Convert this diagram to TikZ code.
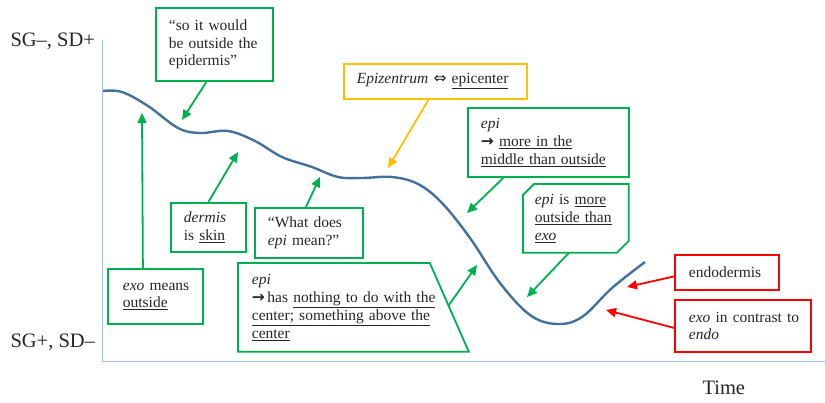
\documentclass[tikz,border=0pt]{standalone}
\usepackage{fontspec}
\setmainfont{Liberation Serif}
\newfontfamily\symfont{DejaVu Sans}
\usepackage{xcolor}
\usetikzlibrary{calc, positioning, arrows.meta}
\definecolor{notegreen}{HTML}{00B050}
\definecolor{noteorange}{HTML}{FFC000}
\definecolor{notered}{HTML}{FF0000}
\definecolor{curveblue}{HTML}{41719C}
\definecolor{axisblue}{HTML}{9DC3E6}
\definecolor{txt}{HTML}{262626}

\begin{document}
\begin{tikzpicture}
			[x=1pt, y=-1pt,
			every node/.style={text=txt, font=\fontsize{15.5pt}{17.8pt}\selectfont},
			axislabel/.style={font=\fontsize{20.5pt}{24pt}\selectfont, anchor=west},
			note/.style={line width=1.8pt, anchor=north west, align=left, inner xsep=13pt, inner ysep=0pt},
			gnote/.style={note, draw=notegreen},
			onote/.style={note, draw=noteorange},
			rnote/.style={note, draw=notered},
			garrow/.style={notegreen, line width=1.8pt, -{Triangle[length=10pt,width=9pt]}},
			oarrow/.style={garrow, noteorange},
			rarrow/.style={garrow, notered}]
		\useasboundingbox (0,0) rectangle (825,402);

		% axes %
		\coordinate (top) at (102,40);
		\coordinate (origin) at (102,361);
		\coordinate (right) at (825,361);
		\draw[axisblue, line width=1pt] (top) -- (origin) -- (right);
		\node[axislabel] (high) at (7,41) {SG–, SD+};
		\node[axislabel] (low) at (7,342) {SG+, SD–};
		\node[axislabel] (time) at (699,388) {Time};

		% curve %
		\draw[curveblue, line width=2.4pt] plot[smooth, tension=0.6] coordinates {
			(103,91) (122,92) (148,106) (178,128) (200,133) (228,131) (255,141)
			(282,157) (312,167) (338,177) (362,178) (392,177) (418,184) (442,203)
			(470,238) (500,283) (530,315) (557,324) (582,317) (612,288) (645,262)};

		% targets on the curve %
		\coordinate (tquote) at (182,120);
		\coordinate (tepiz) at (388,168);
		\coordinate (tmiddle) at (467,213);
		\coordinate (touter) at (527,297);
		\coordinate (tendo) at (627,287);
		\coordinate (tcontrast) at (606,310);
		\coordinate (tdermis) at (238,152);
		\coordinate (twhat) at (320,177);
		\coordinate (texo) at (142,113);
		\coordinate (tnothing) at (477,265);

		% nodes %
		\node[gnote, minimum width=117pt, minimum height=73pt, text width=91pt] (quote) at (155,7)
			{``so it would\\be outside the\\epidermis''};
		\node[onote, minimum width=183pt, minimum height=35pt, text width=157pt] (epiz) at (343,63)
			{\textit{Epizentrum} {\symfont ⇔} \underline{epicenter}};
		\node[gnote, minimum width=161pt, minimum height=69pt, text width=135pt] (middle) at (467,107)
			{\textit{epi}\\{\symfont\bfseries →} \underline{more in the}\\\underline{middle than outside}};
		\node[note, inner xsep=11pt, minimum width=104pt, minimum height=67pt, text width=82pt] (outer) at (523,184)
			{\textit{epi} is \underline{more}\\\underline{outside~than}\\\underline{\textit{exo}}};
		\node[rnote, inner xsep=14pt, minimum width=104pt, minimum height=35pt, text width=76pt] (endo) at (674,254)
			{endodermis};
		\node[rnote, inner xsep=14pt, minimum width=136pt, minimum height=52pt, text width=108pt] (contrast) at (674,299)
			{\mbox{\textit{exo} in contrast to}\\\textit{endo}};
		\node[gnote, minimum width=75pt, minimum height=49pt, text width=49pt] (dermis) at (170,202)
			{\textit{dermis}\\is \underline{skin}};
		\node[gnote, minimum width=108pt, minimum height=50pt, text width=82pt] (what) at (254,207)
			{``What~does\\\textit{epi}~mean?''};
		\node[gnote, inner xsep=15pt, minimum width=95pt, minimum height=55pt, text width=65pt] (exo) at (107,268)
			{\textit{exo}~means\\\underline{outside}};
		\node[note, minimum width=229pt, minimum height=87pt, text width=203pt] (nothing) at (238,263)
			{\textit{epi}\\{\symfont\bfseries →}\,has \underline{nothing to do with the}\\\underline{center; something above the}\\\underline{center}};

		% odd shaped frames %
		\draw[notegreen, line width=1.8pt, line join=miter]
			([yshift=-11pt]outer.north west) -- ([xshift=11pt]outer.north west) -- (outer.north east)
			-- ([yshift=12pt]outer.south east) -- ([xshift=-12pt]outer.south east) -- (outer.south west) -- cycle;
		\draw[notegreen, line width=1.8pt, line join=miter]
			(nothing.north west) -- ([xshift=-39pt]nothing.north east) -- (nothing.south east) -- (nothing.south west) -- cycle;

		% edges %
		\draw[garrow] ([xshift=-8pt]quote.south) -- (tquote);
		\draw[oarrow] ([xshift=-7pt]epiz.south) -- (tepiz);
		\draw[garrow] ([xshift=-45pt]middle.south) -- (tmiddle);
		\draw[garrow] ([xshift=-7pt]outer.south) -- (touter);
		\draw[rarrow] ([yshift=-4pt]endo.west) -- (tendo);
		\draw[rarrow] ([yshift=-2pt]contrast.west) -- (tcontrast);
		\draw[garrow] (dermis.north) -- (tdermis);
		\draw[garrow] ([xshift=-3pt]what.north) -- (twhat);
		\draw[garrow] ([xshift=-12.5pt]exo.north) -- (texo);
		\draw[garrow] ($([xshift=-39pt]nothing.north east)!.48!(nothing.south east)$) -- (tnothing);
		\end{tikzpicture}
\end{document}
